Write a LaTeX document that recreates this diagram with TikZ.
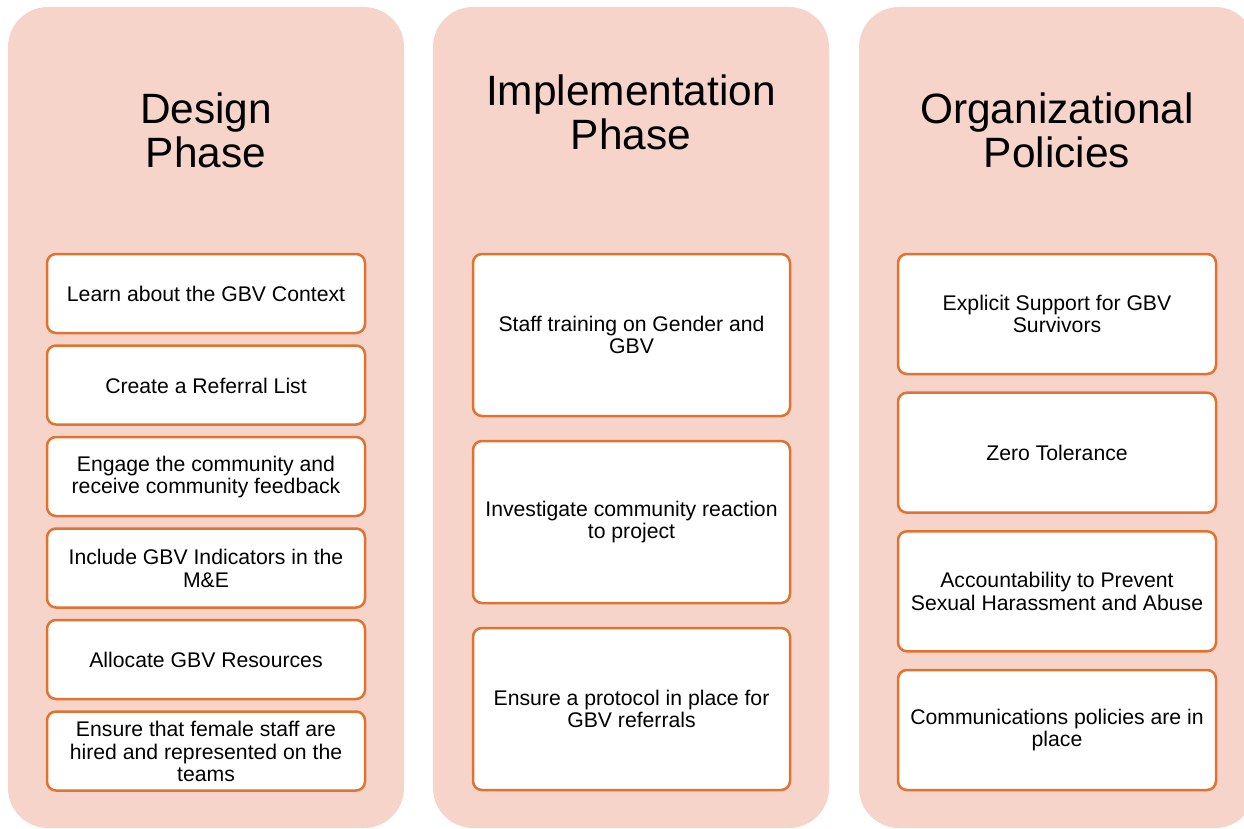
\documentclass[tikz,border=0pt]{standalone}
\usepackage{fontspec}
\setmainfont{Liberation Sans}
\definecolor{panelfill}{HTML}{F7D4CA}
\definecolor{boxline}{HTML}{E0732F}
\begin{document}
\begin{tikzpicture}[x=1pt,y=-1pt,
  panel/.style={fill=panelfill, draw=none, rounded corners=40pt},
  title/.style={align=center, font=\fontsize{42.4}{44}\selectfont, inner sep=0pt},
  item/.style={draw=boxline, line width=2.5pt, fill=white, rounded corners=9pt},
  itemtext/.style={align=center, font=\fontsize{21.2}{22.5}\selectfont, inner sep=0pt}]
\useasboundingbox (0,0) rectangle (1244,829);
\clip (0,0) rectangle (1244,829);

% three column panels
\path[panel] (8,7) rectangle (404,828);
\path[panel] (433,7) rectangle (829,828);
\path[panel] (859,7) rectangle (1255,828);

\node[title] (t1) at (206,130) {Design\\Phase};
\node[title] (t2) at (631,112) {Implementation\\Phase};
\node[title] (t3) at (1057,130) {Organizational\\Policies};

% design phase steps
\foreach \y/\txt [count=\i] in {254/{Learn about the GBV Context},
    345.5/{Create a Referral List},
    437/{Engage the community and\\receive community feedback},
    528.5/{Include GBV Indicators in the\\M\&E},
    620/{Allocate GBV Resources},
    711.5/{Ensure that female staff are\\hired and represented on the\\teams}} {
  \draw[item] (47,\y) rectangle (365,\y+79) coordinate (d\i);
  \node[itemtext] (dt\i) at (206,\y+40) {\txt};
}

% implementation phase steps
\foreach \y/\txt [count=\i] in {254/{Staff training on Gender and\\GBV},
    441/{Investigate community reaction\\to project},
    628/{Ensure a protocol in place for\\GBV referrals}} {
  \draw[item] (473,\y) rectangle (790,\y+162) coordinate (m\i);
  \node[itemtext] (mt\i) at (631.5,\y+81) {\txt};
}

% organizational policies
\foreach \y/\txt [count=\i] in {254/{Explicit Support for GBV\\Survivors},
    392.7/{Zero Tolerance},
    531.3/{Accountability to Prevent\\Sexual Harassment and Abuse},
    670/{Communications policies are in\\place}} {
  \draw[item] (898,\y) rectangle (1216,\y+120) coordinate (p\i);
  \node[itemtext] (pt\i) at (1057,\y+60) {\txt};
}
\end{tikzpicture}
\end{document}
